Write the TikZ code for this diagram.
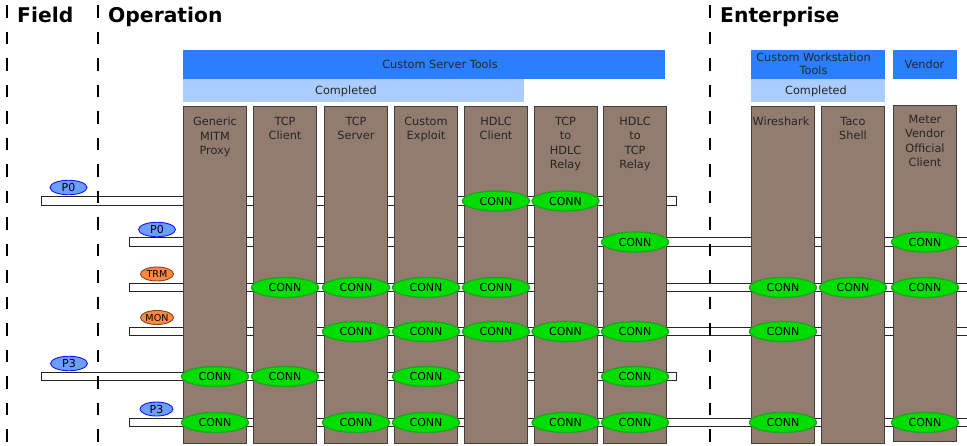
\documentclass[tikz,border=0pt]{standalone}
\usepackage{fontspec}
\setmainfont{DejaVu Sans}
\usetikzlibrary{shapes.geometric}
\definecolor{hdrblue}{RGB}{42,127,255}
\definecolor{lightblue}{RGB}{170,204,255}
\definecolor{colbrown}{RGB}{145,124,111}
\definecolor{connfill}{RGB}{0,221,0}
\definecolor{connborder}{RGB}{30,165,30}
\definecolor{pfill}{RGB}{108,158,255}
\definecolor{pborder}{RGB}{20,20,255}
\definecolor{ofill}{RGB}{255,136,68}
\definecolor{oborder}{RGB}{140,65,20}
\tikzset{
  hdr/.style={font=\fontsize{20.3}{24}\selectfont\bfseries, anchor=base west, inner sep=0},
  dashline/.style={line width=1.4pt, dash pattern=on 12.5pt off 14pt},
  bluebox/.style={fill=hdrblue, draw=none, anchor=north west, inner sep=0},
  lightbox/.style={fill=lightblue, draw=none, anchor=north west, inner sep=0},
  boxtext/.style={font=\fontsize{11.3}{14}\selectfont, inner sep=0, align=center, text=black!85},
  toolcol/.style={fill=colbrown, draw=black!75, line width=1pt, anchor=north west,
    minimum width=63pt, minimum height=337pt, inner sep=0},
  coltext/.style={font=\fontsize{11.3}{14.3}\selectfont, inner sep=0, align=center, anchor=north, text=black!85},
  bus/.style={fill=white, draw=black!85, line width=0.8pt, anchor=west,
    minimum height=8.5pt, inner sep=0},
  conn/.style={ellipse, fill=connfill, draw=connborder, line width=1.3pt,
    minimum width=67pt, minimum height=20pt, inner sep=0, font=\fontsize{11}{12}\selectfont},
  plabel/.style={ellipse, fill=pfill, draw=pborder, line width=0.9pt,
    minimum width=37pt, minimum height=14.5pt, inner sep=0, font=\fontsize{11}{12}\selectfont},
  olabel/.style={ellipse, fill=ofill, draw=oborder, line width=0.9pt,
    minimum width=33pt, minimum height=14pt, inner sep=0, font=\fontsize{9.6}{11}\selectfont},
}
\begin{document}
\begin{tikzpicture}[x=1pt,y=-1pt]
\useasboundingbox (0,0) rectangle (967,445);

% zone headers
\node[hdr] (hfield) at (17,22) {Field};
\node[hdr] (hop) at (108,22) {Operation};
\node[hdr] (hent) at (720,22) {Enterprise};

% group headers
\node[bluebox, minimum width=482pt, minimum height=29pt] (srv) at (183,50) {};
\node[boxtext] (srvt) at (440,64) {Custom Server Tools};
\node[lightbox, minimum width=341pt, minimum height=23pt] (srvc) at (183,79) {};
\node[boxtext] (srvct) at (346,91.5) {Completed};
\node[bluebox, minimum width=134pt, minimum height=29pt] (ws) at (751,50) {};
\node[boxtext, font=\fontsize{11.3}{13.5}\selectfont] (wst) at (813.5,64) {Custom Workstation\\Tools};
\node[lightbox, minimum width=134pt, minimum height=23pt] (wsc) at (751,79) {};
\node[boxtext] (wsct) at (816,91) {Completed};
\node[bluebox, minimum width=64pt, minimum height=29pt] (vend) at (893,50) {};
\node[boxtext] (vendt) at (924.5,64) {Vendor};

% buses
\node[bus, minimum width=635pt] (b1) at (41,201) {};
\node[bus, minimum width=850pt] (b2) at (129,242) {};
\node[bus, minimum width=850pt] (b3) at (129,287.5) {};
\node[bus, minimum width=850pt] (b4) at (129,331.5) {};
\node[bus, minimum width=635pt] (b5) at (41,376.5) {};
\node[bus, minimum width=850pt] (b6) at (129,422.5) {};

% tool columns
\node[toolcol] (c1) at (183,106) {};
\node[toolcol] (c2) at (253,106) {};
\node[toolcol] (c3) at (324,106) {};
\node[toolcol] (c4) at (394,106) {};
\node[toolcol] (c5) at (464,106) {};
\node[toolcol] (c6) at (533.5,106) {};
\node[toolcol] (c7) at (603,106) {};
\node[toolcol] (c8) at (751,106) {};
\node[toolcol] (c9) at (821,106) {};
\node[toolcol, minimum height=336pt] (c10) at (893,105) {};

\node[coltext, yshift=-11pt] (t1) at (c1.north) {Generic\\MITM\\Proxy};
\node[coltext, yshift=-11pt] (t2) at (c2.north) {TCP\\Client};
\node[coltext, yshift=-11pt] (t3) at (c3.north) {TCP\\Server};
\node[coltext, yshift=-11pt] (t4) at (c4.north) {Custom\\Exploit};
\node[coltext, yshift=-11pt] (t5) at (c5.north) {HDLC\\Client};
\node[coltext, yshift=-11pt] (t6) at (c6.north) {TCP\\to\\HDLC\\Relay};
\node[coltext, yshift=-11pt] (t7) at (c7.north) {HDLC\\to\\TCP\\Relay};
\node[coltext, yshift=-11pt, xshift=-2pt] (t8) at (c8.north) {Wireshark};
\node[coltext, yshift=-11pt] (t9) at (c9.north) {Taco\\Shell};
\node[coltext, yshift=-10pt] (t10) at (c10.north) {Meter\\Vendor\\Official\\Client};

% zone separators
\coordinate (d1a) at (7,5);   \coordinate (d1b) at (7,442);
\coordinate (d2a) at (98,5);  \coordinate (d2b) at (98,442);
\coordinate (d3a) at (710,5); \coordinate (d3b) at (710,442);
\draw[dashline] (d1a) -- (d1b);
\draw[dashline] (d2a) -- (d2b);
\draw[dashline] (d3a) -- (d3b);

% bus labels
\node[plabel] (l1) at (68.5,187.5) {P0};
\node[plabel] (l2) at (157,229.5) {P0};
\node[olabel] (l3) at (157,274) {TRM};
\node[olabel] (l4) at (157,317.5) {MON};
\node[plabel] (l5) at (69,363.5) {P3};
\node[plabel, minimum width=33pt, minimum height=14pt] (l6) at (156.5,409) {P3};

% connections
\foreach \b/\cs in {b1/{c5,c6}, b2/{c7,c10}, b3/{c2,c3,c4,c5,c8,c9,c10},
                    b4/{c3,c4,c5,c6,c7,c8}, b5/{c1,c2,c4,c7},
                    b6/{c1,c3,c4,c6,c7,c8,c10}}{
  \foreach \c in \cs {
    \node[conn] (k-\c-\b) at (\c |- \b) {CONN};
  }
}
\end{tikzpicture}
\end{document}
